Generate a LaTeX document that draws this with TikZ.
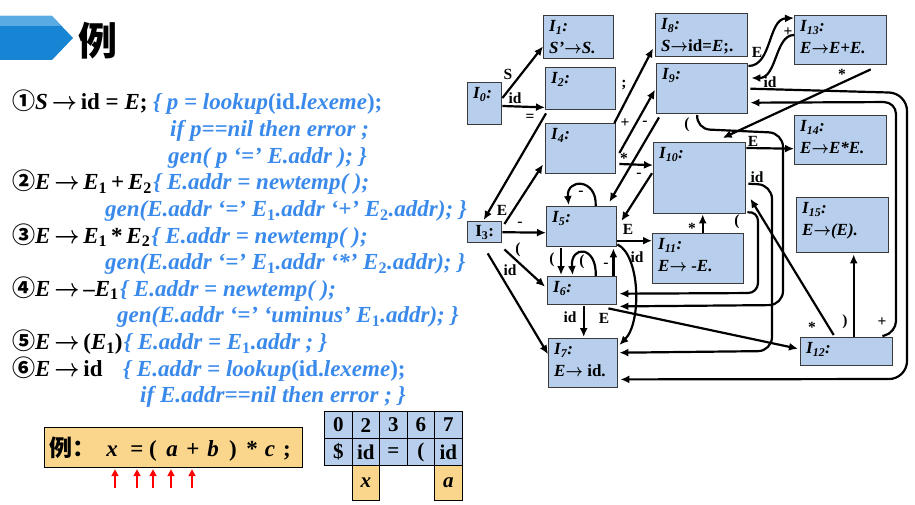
\documentclass[tikz,border=0pt]{standalone}
\usepackage{fontspec}
\usepackage{graphicx}
\setmainfont{Liberation Serif}
\newfontfamily\cjk{Noto Sans CJK SC}
\usetikzlibrary{arrows.meta,calc}
\definecolor{txtblue}{HTML}{3A8AEC}
\definecolor{boxblue}{HTML}{B7CFEC}
\definecolor{boxorange}{HTML}{F9D68C}
\definecolor{bandark}{HTML}{1784D4}
\definecolor{banlight}{HTML}{5AAAE4}
\definecolor{boxline}{HTML}{3A3A3A}
\newcommand\IL[1]{\textit{I}\textsubscript{\textit{#1}}:}
\newcommand\sbone{\textsubscript{\textup{1}}}
\newcommand\sbtwo{\textsubscript{\textup{2}}}
\newcommand\rar{\scalebox{0.88}[1]{\boldmath$\rightarrow$}}
\tikzset{
  stbox/.style={draw=boxline, line width=1.4pt, fill=boxblue, inner sep=0pt},
  stlab/.style={inner sep=0pt, align=left, anchor=north west, font=\fontsize{17}{21.5}\selectfont\bfseries\itshape},
  elab/.style={inner sep=0pt, font=\fontsize{15.5}{15.5}\selectfont\bfseries},
  conn/.style={draw, line width=2.2pt, -{Latex[length=9pt,width=8pt]}},
  ruletxt/.style={inner sep=0pt, anchor=base west, font=\fontsize{23}{23}\selectfont\bfseries},
  bluetxt/.style={ruletxt, text=txtblue, font=\fontsize{23}{23}\selectfont\bfseries\itshape},
  tcell/.style={draw=black, line width=1.2pt, inner sep=0pt, anchor=north west, font=\fontsize{21}{21}\selectfont\bfseries},
  extok/.style={inner sep=0pt, anchor=base, font=\fontsize{23}{23}\selectfont\bfseries},
  redarr/.style={draw=red, line width=2pt, -{Triangle[length=7pt,width=7pt]}}
}
\newcommand\mkbox[6]{%
  \node[stbox, anchor=north west, minimum width=#4pt, minimum height=#5pt] (#1) at (#2,#3) {};
  \node[stlab] (#1t) at ($(#1.north west)+(6,5.5)$) {#6};
}
\newcommand\tc[7]{%
  \node[tcell, fill=#6, minimum width=#4pt, minimum height=#5pt] (#1) at (#2,#3) {#7};
}
\begin{document}
\begin{tikzpicture}[x=1pt,y=-1pt]
\useasboundingbox (0,0) rectangle (915,505);
\fill[white] (0,0) rectangle (915,505);

% banner
\fill[bandark] (0,16) -- (52,16) -- (73,38) -- (52,60) -- (0,60) -- cycle;
\fill[banlight] (0,16) -- (52,16) -- (61,26) -- (0,26) -- cycle;
\node[inner sep=0pt, font=\cjk\bfseries\fontsize{39}{39}\selectfont] (title) at (98,41) {例};

% rules
\node[ruletxt] (r1) at (12,110) {{\cjk ①}\textit{S}\,\rar\,id = \textit{E};};
\node[bluetxt] (b1) at ($(r1.base east)+(5,0)$) {\{ p = lookup\textup{(id.}lexeme\textup{);}};
\node[bluetxt] (b2) at (170,136.6) {if p==nil then error ;};
\node[bluetxt] (b3) at (168,163.2) {gen( p ‘=’ E.addr ); \}};
\node[ruletxt] (r2) at (12,189.8) {{\cjk ②}\textit{E}\,\rar\,\textit{E}\textsubscript{1}\,+\,\textit{E}\textsubscript{2}};
\node[bluetxt] (b4) at ($(r2.base east)+(1,0)$) {\{ E.addr = newtemp( );};
\node[bluetxt] (b5) at (105,216.4) {gen(E.addr ‘=’ E\sbone.addr ‘+’ E\sbtwo.addr); \}};
\node[ruletxt] (r3) at (12,243) {{\cjk ③}\textit{E}\,\rar\,\textit{E}\textsubscript{1}\,*\,\textit{E}\textsubscript{2}};
\node[bluetxt] (b6) at ($(r3.base east)+(1,0)$) {\{ E.addr = newtemp( );};
\node[bluetxt] (b7) at (105,269.6) {gen(E.addr ‘=’ E\sbone.addr ‘*’ E\sbtwo.addr); \}};
\node[ruletxt] (r4) at (12,296.2) {{\cjk ④}\textit{E}\,\rar\,–\textit{E}\textsubscript{1}};
\node[bluetxt] (b8) at ($(r4.base east)+(1,0)$) {\{ E.addr = newtemp( );};
\node[bluetxt] (b9) at (117,322.8) {gen(E.addr ‘=’ ‘uminus’ E\sbone.addr); \}};
\node[ruletxt] (r5) at (12,349.4) {{\cjk ⑤}\textit{E}\,\rar\,(\textit{E}\textsubscript{1})};
\node[bluetxt] (b10) at ($(r5.base east)+(1,0)$) {\{ E.addr = E\sbone.addr ; \}};
\node[ruletxt] (r6) at (12,376) {{\cjk ⑥}\textit{E}\,\rar\,id};
\node[bluetxt] (b11) at (123,376) {\{ E.addr = lookup\textup{(id.}lexeme\textup{);}};
\node[bluetxt] (b12) at (140,402.6) {if E.addr==nil then error ; \}};

% example
\node[draw=black, line width=1.2pt, fill=boxorange, minimum width=258pt, minimum height=40pt, inner sep=0pt, anchor=north west] (ex) at (44,427) {};
\node[extok] (exl) at (72,456) {\cjk 例：};
\node[extok] (tx) at (112,456) {\textit{x}};
\node[extok] (teq) at (137,456) {=};
\node[extok] (tlp) at (153,456) {(};
\node[extok] (ta) at (172,456) {\textit{a}};
\node[extok] (tplus) at (193,456) {+};
\node[extok] (tb) at (213,456) {\textit{b}};
\node[extok] (trp) at (233,456) {)};
\node[extok] (tst) at (252,456) {*};
\node[extok] (tc) at (270,456) {\textit{c}};
\node[extok] (tsc) at (287,456) {;};
\foreach \i/\xx in {1/115,2/137,3/153,4/171,5/192}{
  \coordinate (rb\i) at (\xx,488);
  \draw[redarr] (rb\i) -- ($(rb\i|-ex.south)+(0,1)$);
}

% table
\tc{c00}{324}{411}{27.5}{27}{boxblue}{0}
\tc{c01}{351.5}{411}{27.5}{27}{boxblue}{2}
\tc{c02}{379}{411}{27.5}{27}{boxblue}{3}
\tc{c03}{406.5}{411}{27.5}{27}{boxblue}{6}
\tc{c04}{434}{411}{27.5}{27}{boxblue}{7}
\tc{c10}{324}{438}{27.5}{27}{boxblue}{\$}
\tc{c11}{351.5}{438}{27.5}{27}{boxblue}{id}
\tc{c12}{379}{438}{27.5}{27}{boxblue}{=}
\tc{c13}{406.5}{438}{27.5}{27}{boxblue}{(}
\tc{c14}{434}{438}{27.5}{27}{boxblue}{id}
\tc{c21}{351.5}{465}{27.5}{35}{boxorange}{\textit{x}}
\tc{c24}{434}{465}{27.5}{35}{boxorange}{\textit{a}}

% states
\mkbox{I0}{467}{82}{34}{42}{\IL{0}}
\mkbox{I1}{543}{15}{70}{43}{\IL{1}\\S’\rar S.}
\mkbox{I2}{545}{67}{70}{42}{\IL{2}}
\mkbox{I4}{545}{123}{70}{50}{\IL{4}}
\mkbox{I8}{655}{13}{92}{43}{\IL{8}\\S\rar\textup{id=}E\textup{;.}}
\mkbox{I9}{656}{63}{91}{50}{\IL{9}}
\mkbox{I10}{653}{142}{92}{71}{\IL{10}}
\mkbox{I13}{794}{15}{92}{49}{\IL{13}\\E\rar E+E.}
\mkbox{I14}{794}{115}{92}{49}{\IL{14}\\E\rar E*E.}
\mkbox{I15}{796}{197}{92}{55}{\IL{15}\\E\rar(E).}
\mkbox{I12}{800}{337}{92}{28}{\IL{12}}
\mkbox{I11}{652}{233}{91}{50}{\IL{11}\\E\rar{} -E.}
\mkbox{I5}{546}{206}{70}{40}{\IL{5}}
\mkbox{I6}{547}{276}{69}{28}{\IL{6}}
\mkbox{I7}{548}{338}{69}{49}{\IL{7}\\E\rar{} \textup{id.}}
\node[stbox, anchor=north west, minimum width=34pt, minimum height=21pt] (I3) at (467,221) {};
\node[inner sep=0pt, font=\fontsize{17}{17}\selectfont\bfseries] (I3t) at (I3.center) {I\textsubscript{3}:};

% connectors
\draw[conn] ($(I0.north east)+(0,16)$) -- ($(I1.south west)+(0,-13)$);
\draw[conn] ($(I0.north east)+(0,24)$) -- ($(I2.south west)+(0,-3)$);
\draw[conn] ($(I2.south west)+(1,3)$) -- ($(I3.north)+(-1,-1)$);
\draw[conn] ($(I3.north east)+(2,3)$) -- ($(I4.south west)+(-2,-10)$);
\draw[conn] (I3.east) -- ($(I5.west)+(0,6)$);
\draw[conn] ($(I3.south east)+(2,6)$) -- ($(I6.west)+(-2,-4)$);
\draw[conn] ($(I3.south)+(3,10)$) -- ($(I7.west)+(0,-9)$);
\draw[conn] ($(I4.north east)+(-2,0)$) -- ($(I8.south west)+(-2,-9)$);
\draw[conn] ($(I4.north east)+(3,30)$) -- ($(I9.west)+(-1,1)$);
\draw[conn] ($(I4.north east)+(3,41)$) -- ($(I10.west)+(0,-13)$);
\draw[conn] ($(I9.south west)+(3,3)$) -- ($(I5.north east)+(-8,-4)$);
\draw[conn] ($(I10.west)+(-1,-5)$) -- ($(I5.north east)+(4,15)$);
\draw[conn] ($(I5.north)+(14,0)$) .. controls (597,178) and (566,178) .. ($(I5.north)+(-13,-1)$);
\draw[conn] ($(I5.east)+(0,14)$) -- ($(I11.west)+(0,-18)$);
\draw[conn] ($(I5.south east)+(0,-3)$) .. controls (640,255) and (642,322) .. ($(I7.north east)+(1,7)$);
\draw[conn] ($(I5.south west)+(15,1)$) -- ($(I6.north west)+(14,-1)$);
\draw[conn] ($(I6.north)+(13.5,0)$) .. controls (597,245) and (570,245) .. ($(I6.north)+(-9.5,-1)$);
\draw[conn] ($(I6.north east)+(-4,0)$) -- ($(I5.south east)+(-4,1)$);
\draw[conn] ($(I6.south)+(1.5,1)$) -- ($(I7.north)+(0.5,-1)$);
\draw[conn] ($(I6.south east)+(-9,3)$) -- ($(I12.west)+(-2,-3)$);
\draw[conn] ($(I11.north)+(4.5,0)$) -- ($(I10.south)+(3,0)$);
\draw[conn] ($(I10.north east)+(0,6)$) -- ($(I14.west)+(0,8.5)$);
\draw[conn, rounded corners=14pt] ($(I10.east)+(2,5.5)$) -- (772,185) -- (772,351) -- ($(I7.east)+(1,-10.5)$);
\draw[conn, rounded corners=10pt] ($(I10.south east)+(1,-2)$) -- (758,211) -- (758,293) -- ($(I6.east)+(2,3)$);
\draw[conn, rounded corners=14pt] ($(I9.south)+(-5,1)$) -- (696,129) -- (783,133) -- (783,305) -- ($(I6.south east)+(2,1)$);
\draw[conn, rounded corners=18pt] ($(I9.east)+(2,0)$) -- (907,93) -- (907,379) -- ($(I7.south east)+(2,-9)$);
\draw[conn, rounded corners=12pt] ($(I12.north east)+(-11,-1)$) -- (896,333) -- (896,102) -- ($(I9.east)+(2,14)$);
\draw[conn] ($(I13.south)+(30,4)$) -- ($(I10.north)+(23,-4)$);
\draw[conn] ($(I9.north east)+(0,3)$) .. controls (772,66) and (768,19) .. ($(I13.north west)+(0,3)$);
\draw[conn] ($(I13.north west)+(0,20)$) .. controls (775,35) and (777,78) .. ($(I9.north east)+(3,15)$);
\draw[conn] ($(I12.north)+(-13,-2)$) -- ($(I10.east)+(4,20.5)$);
\draw[conn] ($(I12.north)+(7,0)$) -- ($(I15.south)+(11,1)$);

% connector labels
\node[elab] (lS) at (508,74) {S};
\node[elab] (lid02) at (515,98) {id};
\node[elab] (leq) at (530,118) {=};
\node[elab] (lE34) at (502,210) {E};
\node[elab] (lm35) at (520,224) {-};
\node[elab] (lp36) at (518,250) {(};
\node[elab] (lid37) at (510,270) {id};
\node[elab] (lsc) at (624,85) {;};
\node[elab] (lpl49) at (625,123) {+};
\node[elab] (lst410) at (624,158) {*};
\node[elab] (lm95) at (645,123) {-};
\node[elab] (lm105) at (639,175) {-};
\node[elab] (lm55) at (581,193) {-};
\node[elab] (lE511) at (628,229) {E};
\node[elab] (lid57) at (637,257) {id};
\node[elab] (lp56) at (552,260) {(};
\node[elab] (lp66) at (582,262) {(};
\node[elab] (lm65) at (606,265) {-};
\node[elab] (lid67) at (570,317) {id};
\node[elab] (lE612) at (604,318) {E};
\node[elab] (lst1110) at (692,228) {*};
\node[elab] (lE1014) at (753,141) {E};
\node[elab] (lid107) at (757,177) {id};
\node[elab] (lp106) at (737,222) {(};
\node[elab] (lp96) at (687,125) {(};
\node[elab] (lid97) at (770,82) {id};
\node[elab] (lpl129) at (882,322) {+};
\node[elab] (lst1310) at (842,74) {*};
\node[elab] (lE913) at (757,52) {E};
\node[elab] (lpl139) at (788,32) {+};
\node[elab] (lst1210) at (812,327) {*};
\node[elab] (lrp) at (845,322) {)};
\end{tikzpicture}
\end{document}
